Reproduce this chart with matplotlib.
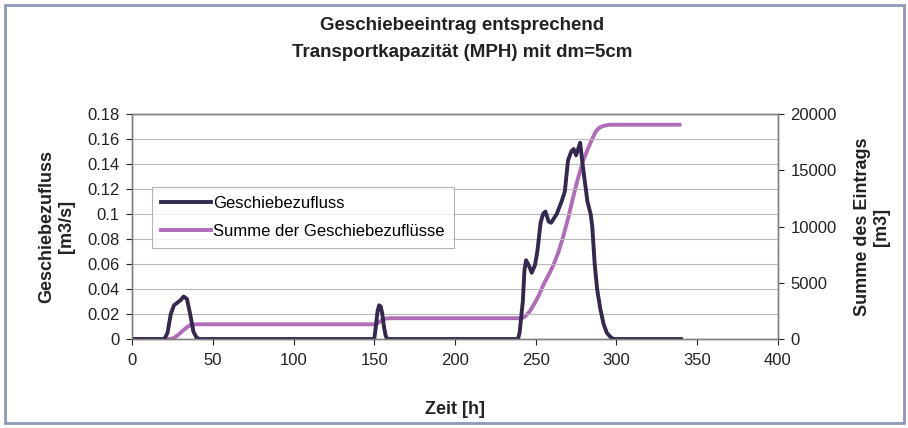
import matplotlib
matplotlib.use("Agg")
import matplotlib.pyplot as plt
from matplotlib.patches import Rectangle

plt.rcParams['font.family'] = ['Liberation Sans', 'DejaVu Sans']

title = "Geschiebeeintrag entsprechend\nTransportkapazität (MPH) mit dm=5cm"
xlabel = "Zeit [h]"
ylabel_left = "Geschiebezufluss\n[m3/s]"
ylabel_right = "Summe des Eintrags\n[m3]"
series_names = ["Geschiebezufluss", "Summe der Geschiebezuflüsse"]

# Geschiebezufluss [m3/s]
t_q = [0, 20, 22, 24, 26, 28, 30, 32, 34, 36, 38, 40, 42,
       150, 151, 152, 153, 154, 155, 156, 157, 158,
       239, 240, 242, 243, 244, 246, 247.5, 249.5, 251, 253, 254.5, 256, 258,
       259.5, 261.5, 263, 264.5, 266, 268, 270, 272, 273.5, 275, 276.5, 277.5,
       279, 280.5, 282, 284, 285, 286.5, 288, 290, 292, 294, 296, 298, 340]
q = [0, 0, 0.005, 0.02, 0.027, 0.029, 0.031, 0.034, 0.032, 0.02, 0.006, 0.001, 0,
     0, 0.01, 0.022, 0.027, 0.026, 0.02, 0.01, 0.003, 0,
     0, 0.005, 0.03, 0.055, 0.063, 0.058, 0.053, 0.059, 0.07, 0.093, 0.1, 0.102, 0.094,
     0.093, 0.097, 0.1, 0.105, 0.11, 0.118, 0.143, 0.15, 0.152, 0.147, 0.153, 0.157,
     0.14, 0.125, 0.11, 0.1, 0.09, 0.06, 0.04, 0.024, 0.012, 0.005, 0.002, 0, 0]

# Summe der Geschiebezuflüsse [m3]
t_s = [0, 24, 26, 28, 30, 32, 34, 36, 38, 40,
       150, 152, 154, 156, 158, 160,
       241, 243, 246, 249, 252, 255, 258, 261, 264, 267, 270, 273, 276, 279,
       282, 285, 287, 289, 292, 296, 339]
s = [0, 0, 100, 300, 550, 800, 1050, 1220, 1290, 1310,
     1310, 1400, 1600, 1780, 1840, 1850,
     1850, 1950, 2400, 3100, 3900, 4900, 5700, 6600, 7700, 9100, 10700, 12500, 14200, 15700,
     16800, 17800, 18400, 18750, 18950, 19050, 19050]

x_ticks = [0, 50, 100, 150, 200, 250, 300, 350, 400]
y_ticks = [0, 0.02, 0.04, 0.06, 0.08, 0.1, 0.12, 0.14, 0.16, 0.18]
y_ticklabels = ["0", "0.02", "0.04", "0.06", "0.08", "0.1", "0.12", "0.14", "0.16", "0.18"]
y2_ticks = [0, 5000, 10000, 15000, 20000]

dark = "#35284f"
mag = "#b06cb8"

fig = plt.figure(figsize=(9.08, 4.28), dpi=100)
fig.patches.append(Rectangle((0.006, 0.012), 0.99, 0.976, transform=fig.transFigure,
                             fill=False, edgecolor="#8d98ba", linewidth=2.0))
ax = fig.add_axes([0.1454, 0.2079, 0.7114, 0.5257])
ax2 = ax.twinx()

l1, = ax.plot(t_q, q, color=dark, lw=2.8, solid_joinstyle='round')
l2, = ax2.plot(t_s, s, color=mag, lw=2.8, solid_joinstyle='round')
ax.set_zorder(ax2.get_zorder() + 1)
ax.patch.set_visible(False)

ax.set_xlim(0, 400)
ax.set_ylim(0, 0.18)
ax2.set_ylim(0, 20000)
ax.set_xticks(x_ticks)
ax.set_yticks(y_ticks)
ax.set_yticklabels(y_ticklabels)
ax2.set_yticks(y2_ticks)
ax.yaxis.grid(True, color="#b8b8b8", lw=0.8)
for a in (ax, ax2):
    for sp in a.spines.values():
        sp.set_color("#808080")
        sp.set_linewidth(1.0)
    a.tick_params(labelsize=12, colors="#222222", direction='out', length=4)
ax.tick_params(axis='y', pad=5)
ax.tick_params(axis='x', pad=6)
ax2.tick_params(axis='y', pad=5)

ax.set_xlabel(xlabel, fontsize=13, fontweight='bold', labelpad=24, color="#222222")
ax.set_ylabel(ylabel_left, fontsize=13, fontweight='bold', labelpad=9, color="#222222")
ax2.set_ylabel(ylabel_right, fontsize=13, fontweight='bold', labelpad=12, color="#222222")
fig.text(0.509, 0.909, title, ha='center', va='center', fontsize=13.5, fontweight='bold',
         color="#222222", linespacing=1.75)

leg = ax.legend([l1, l2], series_names, loc='upper left', bbox_to_anchor=(0.031, 0.676),
                fontsize=12, frameon=True, fancybox=False, handlelength=3.0,
                handletextpad=0.1, borderpad=0.55, labelspacing=0.75, borderaxespad=0)
leg.get_frame().set_edgecolor("#a0a0a0")
leg.get_frame().set_linewidth(0.8)

fig.savefig("out.png", dpi=100)
